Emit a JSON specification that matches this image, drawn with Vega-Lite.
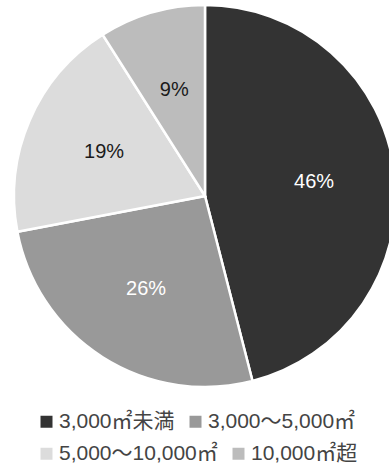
{
  "$schema": "https://vega.github.io/schema/vega-lite/v6.json",
  "width": 410,
  "height": 392,
  "autosize": {"type": "none"},
  "padding": {"left": 0, "top": 0, "right": 0, "bottom": 73},
  "background": "white",
  "config": {"view": {"stroke": null}},
  "data": {
    "values": [
      {"category": "3,000㎡未満", "pct": 46, "label": "46%", "order": 1},
      {"category": "3,000〜5,000㎡", "pct": 26, "label": "26%", "order": 2},
      {"category": "5,000〜10,000㎡", "pct": 19, "label": "19%", "order": 3},
      {"category": "10,000㎡超", "pct": 9, "label": "9%", "order": 4}
    ]
  },
  "encoding": {
    "theta": {"field": "pct", "type": "quantitative", "stack": true},
    "order": {"field": "order", "type": "quantitative"}
  },
  "layer": [
    {
      "mark": {"type": "arc", "outerRadius": 191, "stroke": "white", "strokeWidth": 2.5},
      "encoding": {
        "color": {
          "field": "category",
          "type": "nominal",
          "scale": {
            "domain": ["3,000㎡未満", "3,000〜5,000㎡", "5,000〜10,000㎡", "10,000㎡超"],
            "range": ["#333333", "#999999", "#dcdcdc", "#bcbcbc"]
          },
          "legend": {
            "title": null,
            "values": ["3,000㎡未満", "3,000〜5,000㎡"],
            "orient": "none",
            "direction": "horizontal",
            "legendX": 36,
            "legendY": 411,
            "padding": 0,
            "symbolType": "square",
            "symbolSize": 144,
            "symbolStrokeWidth": 0,
            "labelFont": "Liberation Sans, Noto Sans CJK JP",
            "labelFontSize": 21,
            "labelColor": "#444444",
            "labelOffset": 2,
            "labelLimit": 0,
            "columnPadding": 10
          }
        }
      }
    },
    {
      "transform": [{"filter": "datum.order >= 3"}],
      "mark": {"type": "arc", "outerRadius": 191, "opacity": 0},
      "encoding": {
        "fill": {
          "field": "category",
          "type": "nominal",
          "scale": {
            "domain": ["5,000〜10,000㎡", "10,000㎡超"],
            "range": ["#dcdcdc", "#bcbcbc"]
          },
          "legend": {
            "title": null,
            "orient": "none",
            "direction": "horizontal",
            "legendX": 36,
            "legendY": 443,
            "padding": 0,
            "symbolType": "square",
            "symbolSize": 144,
            "symbolStrokeWidth": 0,
            "symbolOpacity": 1,
            "labelFont": "Liberation Sans, Noto Sans CJK JP",
            "labelFontSize": 21,
            "labelColor": "#444444",
            "labelOffset": 2,
            "labelLimit": 0,
            "columnPadding": 10
          }
        }
      }
    },
    {
      "mark": {"type": "text", "radius": 110, "font": "Liberation Sans", "fontSize": 20},
      "encoding": {
        "text": {"field": "label", "type": "nominal"},
        "fill": {
          "condition": {"test": "datum.pct > 20", "value": "white"},
          "value": "#1a1a1a"
        }
      }
    }
  ]
}
